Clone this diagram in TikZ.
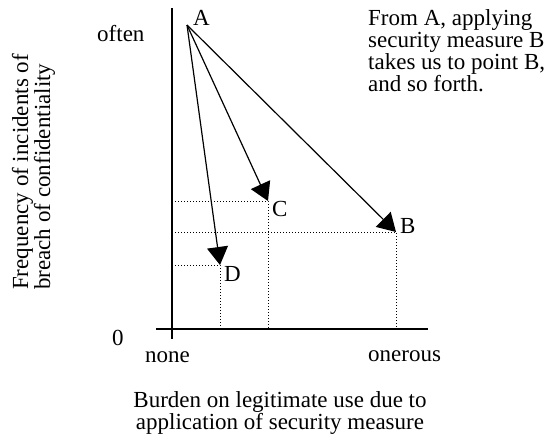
\documentclass[tikz,border=0pt]{standalone}
\usepackage{fontspec}
\setmainfont{Liberation Serif}
\usetikzlibrary{arrows.meta,positioning,calc}

\tikzset{
  axis/.style={line width=1.6pt},
  move/.style={line width=1.2pt, -{Triangle[length=18pt,width=21pt]}},
  guide/.style={line width=1pt, dotted},
  lbl/.style={font=\fontsize{23}{22}\selectfont, inner sep=0pt, anchor=base west}
}

\begin{document}
\begin{tikzpicture}[x=1pt,y=-1pt]
  \useasboundingbox (0,0) rectangle (553,445);
  % axes
  \coordinate (ytop) at (172,8);
  \coordinate (ybot) at (172,339);
  \coordinate (xl) at (156,329);
  \coordinate (xr) at (428,329);
  \coordinate (gl) at (175,329);
  \draw[axis] (ytop) -- (ybot);
  \draw[axis] (xl) -- (xr);

  % points
  \coordinate (pA) at (187,25);
  \coordinate (pB) at (396,232);
  \coordinate (pC) at (268,201);
  \coordinate (pD) at (220,265);

  % dotted guides
  \draw[guide] (pC -| gl) -- (pC) -- (pC |- xl);
  \draw[guide] (pB -| gl) -- (pB) -- (pB |- xl);
  \draw[guide] (pD -| gl) -- (pD) -- (pD |- xl);

  % moves from A
  \draw[move] (pA) -- (pB);
  \draw[move] (pA) -- (pC);
  \draw[move] (pA) -- (pD);

  % point labels
  \node[lbl] (labA) at (193,25) {A};
  \node[lbl] (labB) at (400,233) {B};
  \node[lbl] (labC) at (272,216) {C};
  \node[lbl] (labD) at (224,281) {D};

  % axis values
  \node[lbl] (often) at (97,41) {often};
  \node[lbl] (zero) at (112,345) {0};
  \node[lbl] (none) at (145,362) {none};
  \node[lbl] (onerous) at (368,361) {onerous};

  % axis titles (base = last line)
  \node[lbl, anchor=base, align=center] (xtitle) at (280,429)
       {Burden on legitimate use due to\\application of security measure};
  \node[lbl, align=left, rotate=90] (ytitle) at (50,290)
       {Frequency of incidents of\\breach of confidentiality};

  % note
  \node[lbl, align=left] (note) at (368,91)
       {From A, applying\\security measure B\\takes us to point B,\\and so forth.};
\end{tikzpicture}
\end{document}
